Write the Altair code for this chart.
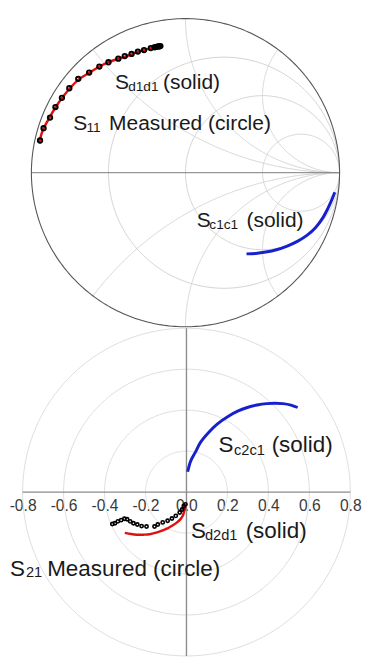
import altair as alt
import numpy as np
import pandas as pd

FONT = "Arial, Liberation Sans, sans-serif"

# ---------------- Top panel: Smith chart (reflection coefficient plane) ----------------
s11_meas_re = [-0.944, -0.921, -0.879, -0.844, -0.802, -0.754, -0.696, -0.625, -0.559, -0.500,
               -0.436, -0.394, -0.350, -0.309, -0.269, -0.225, -0.200, -0.188, -0.178, -0.169, -0.163]
s11_meas_im = [0.209, 0.289, 0.358, 0.426, 0.486, 0.548, 0.609, 0.650, 0.689, 0.717,
               0.740, 0.757, 0.771, 0.786, 0.796, 0.809, 0.814, 0.817, 0.819, 0.820, 0.822]

sd1d1_re = [-0.950, -0.925, -0.888, -0.844, -0.800, -0.750, -0.694, -0.625, -0.563, -0.500,
            -0.438, -0.375, -0.313, -0.250, -0.188, -0.169]
sd1d1_im = [0.192, 0.279, 0.348, 0.423, 0.486, 0.548, 0.604, 0.648, 0.686, 0.717,
            0.739, 0.759, 0.783, 0.801, 0.817, 0.820]

sc1c1_re = [0.396, 0.456, 0.521, 0.590, 0.660, 0.729, 0.790, 0.845, 0.890, 0.925, 0.950, 0.969]
sc1c1_im = [-0.527, -0.524, -0.515, -0.500, -0.476, -0.444, -0.405, -0.355, -0.295, -0.230, -0.175, -0.127]

smith_r_circles = [1 / 3, 1, 3]
smith_x_arcs = [0.5, 1, 2, -0.5, -1, -2]

top_big_text = ["S", "(solid)", "S", "Measured (circle)", "S", "(solid)"]
top_big_re = [-0.458, -0.146, -0.729, -0.496, 0.073, 0.396]
top_big_im = [0.546, 0.546, 0.279, 0.279, -0.350, -0.350]
top_sub_text = ["d1d1", "11", "c1c1"]
top_sub_re = [-0.372, -0.643, 0.155]
top_sub_im = [0.5325, 0.267, -0.3625]

# ---------------- Bottom panel: polar plot of transmission ----------------
s21_meas_re = [-0.362, -0.349, -0.335, -0.319, -0.303, -0.290, -0.275, -0.259, -0.240, -0.219, -0.195,
               -0.156, -0.140, -0.116, -0.092, -0.071, -0.052, -0.033, -0.021, -0.013, -0.005]
s21_meas_im = [-0.156, -0.152, -0.143, -0.137, -0.130, -0.133, -0.143, -0.152, -0.158, -0.166, -0.168,
               -0.168, -0.158, -0.148, -0.140, -0.129, -0.116, -0.100, -0.085, -0.068, -0.060]

sd2d1_re = [-0.301, -0.270, -0.243, -0.210, -0.180, -0.148, -0.116, -0.090, -0.068, -0.046,
            -0.029, -0.018, -0.013, -0.008, -0.005]
sd2d1_im = [-0.199, -0.205, -0.208, -0.208, -0.206, -0.198, -0.187, -0.176, -0.163, -0.148,
            -0.132, -0.116, -0.100, -0.084, -0.068]

sc2c1_re = [0.006, 0.020, 0.043, 0.070, 0.106, 0.150, 0.201, 0.250, 0.297, 0.345, 0.392, 0.430, 0.471, 0.510, 0.543]
sc2c1_im = [0.099, 0.150, 0.194, 0.245, 0.289, 0.332, 0.368, 0.395, 0.413, 0.425, 0.432, 0.434, 0.432, 0.425, 0.413]

polar_rings = [0.2, 0.4, 0.6, 0.8]
polar_ticks = [-0.8, -0.6, -0.4, -0.2, 0.0, 0.2, 0.4, 0.6, 0.8]

bot_big_text = ["S", "(solid)", "S", "(solid)", "S", "Measured (circle)"]
bot_big_re = [0.157, 0.416, 0.022, 0.289, -0.862, -0.680]
bot_big_im = [0.194, 0.194, -0.224, -0.224, -0.410, -0.410]
bot_sub_text = ["c2c1", "d2d1", "21"]
bot_sub_re = [0.232, 0.090, -0.784]
bot_sub_im = [0.181, -0.233, -0.417]

# ---------------- geometry helpers (grid lines) ----------------
theta = np.linspace(0, 2 * np.pi, 361)

rows = []
for k, r in enumerate(smith_r_circles):
    c, rad = r / (1 + r), 1 / (1 + r)
    for i, t in enumerate(theta):
        rows.append({"g": f"r{k}", "i": i, "re": c + rad * np.cos(t), "im": rad * np.sin(t)})
tt = np.linspace(0, np.pi / 2, 400, endpoint=False)
for k, xv in enumerate(smith_x_arcs):
    for i, t in enumerate(tt):
        z = complex(np.tan(t), xv)
        g = (z - 1) / (z + 1)
        rows.append({"g": f"x{k}", "i": i, "re": g.real, "im": g.imag})
    rows.append({"g": f"x{k}", "i": 400, "re": 1.0, "im": 0.0})
smith_grid = pd.DataFrame(rows)
smith_outer = pd.DataFrame({"g": "o", "i": range(len(theta)), "re": np.cos(theta), "im": np.sin(theta)})
smith_axis = pd.DataFrame({"re": [-1.0], "re2": [1.0], "im": [0.0]})

ring_rows = []
for k, rr in enumerate(polar_rings):
    for i, t in enumerate(theta):
        ring_rows.append({"g": f"p{k}", "i": i, "re": rr * np.cos(t), "im": rr * np.sin(t)})
polar_grid = pd.DataFrame(ring_rows)
polar_h = pd.DataFrame({"re": [-0.8], "re2": [0.8], "im": [0.0]})
polar_v = pd.DataFrame({"re": [0.0], "im": [-0.8], "im2": [0.8]})


def series(re, im):
    return pd.DataFrame({"re": re, "im": im, "i": range(len(re))})


# ---------------- Top chart ----------------
tx = alt.Scale(domain=[-182 / 158, 180 / 158], nice=False, zero=False)
ty = alt.Scale(domain=[-(318 - 158.5) / 158, 158.5 / 158], nice=False, zero=False)
TX = alt.X("re:Q", scale=tx, axis=None)
TY = alt.Y("im:Q", scale=ty, axis=None)

top_layers = [
    alt.Chart(smith_grid).mark_line(color="#d2d2d2", strokeWidth=1).encode(
        x=TX, y=TY, detail="g:N", order="i:Q"),
    alt.Chart(smith_axis).mark_rule(color="#7a7a7a", strokeWidth=1).encode(
        x=TX, x2="re2:Q", y=TY),
    alt.Chart(smith_outer).mark_line(color="#555555", strokeWidth=1.1).encode(
        x=TX, y=TY, order="i:Q"),
    alt.Chart(series(sd1d1_re, sd1d1_im)).mark_line(
        color="#e01010", strokeWidth=2.5, interpolate="catmull-rom").encode(x=TX, y=TY, order="i:Q"),
    alt.Chart(series(s11_meas_re, s11_meas_im)).mark_point(
        shape="circle", filled=False, color="black", size=20, strokeWidth=2, opacity=1).encode(x=TX, y=TY),
    alt.Chart(series(sc1c1_re, sc1c1_im)).mark_line(
        color="#1620cc", strokeWidth=3, interpolate="catmull-rom").encode(x=TX, y=TY, order="i:Q"),
    alt.Chart(pd.DataFrame({"re": top_big_re, "im": top_big_im, "t": top_big_text})).mark_text(
        align="left", baseline="alphabetic", fontSize=21.5, font=FONT, color="#1a1a1a").encode(
        x=TX, y=TY, text="t:N"),
    alt.Chart(pd.DataFrame({"re": top_sub_re, "im": top_sub_im, "t": top_sub_text})).mark_text(
        align="left", baseline="alphabetic", fontSize=14, font=FONT, color="#1a1a1a").encode(
        x=TX, y=TY, text="t:N"),
]
top = alt.layer(*top_layers).properties(width=362, height=318)

# ---------------- Bottom chart ----------------
bx = alt.Scale(domain=[-183 / 210, 179 / 210], nice=False, zero=False)
by = alt.Scale(domain=[-(340 - 168) / 210, 168 / 210], nice=False, zero=False)
BX = alt.X("re:Q", scale=bx, title=None, axis=alt.Axis(
    values=polar_ticks, orient="bottom", offset=-172, domain=False, ticks=False, tickSize=0,
    grid=False, labelFontSize=16, labelColor="#3a3a3a", labelFont=FONT, labelPadding=6,
    labelFlush=False, labelOverlap=False, title=None,
    labelExpr="(datum.value < -0.001 ? '-' : '') + format(abs(datum.value), '.1f')"))
BY = alt.Y("im:Q", scale=by, axis=None)

bot_layers = [
    alt.Chart(polar_grid).mark_line(color="#dcdcdc", strokeWidth=1).encode(
        x=BX, y=BY, detail="g:N", order="i:Q"),
    alt.Chart(polar_h).mark_rule(color="#8c8c8c", strokeWidth=1.4).encode(x=BX, x2="re2:Q", y=BY),
    alt.Chart(polar_v).mark_rule(color="#8c8c8c", strokeWidth=1.4).encode(x=BX, y=BY, y2="im2:Q"),
    alt.Chart(series(sd2d1_re, sd2d1_im)).mark_line(
        color="#e01010", strokeWidth=2.5, interpolate="catmull-rom").encode(x=BX, y=BY, order="i:Q"),
    alt.Chart(series(s21_meas_re, s21_meas_im)).mark_point(
        shape="circle", filled=False, color="black", size=11, strokeWidth=1.7, opacity=1).encode(x=BX, y=BY),
    alt.Chart(series(sc2c1_re, sc2c1_im)).mark_line(
        color="#1620cc", strokeWidth=3, interpolate="catmull-rom").encode(x=BX, y=BY, order="i:Q"),
    alt.Chart(pd.DataFrame({"re": bot_big_re, "im": bot_big_im, "t": bot_big_text})).mark_text(
        align="left", baseline="alphabetic", fontSize=23, font=FONT, color="#1a1a1a").encode(
        x=BX, y=BY, text="t:N"),
    alt.Chart(pd.DataFrame({"re": bot_sub_re, "im": bot_sub_im, "t": bot_sub_text})).mark_text(
        align="left", baseline="alphabetic", fontSize=15, font=FONT, color="#1a1a1a").encode(
        x=BX, y=BY, text="t:N"),
]
bottom = alt.layer(*bot_layers).properties(width=362, height=340)

chart = alt.vconcat(top, bottom, spacing=0, bounds="flush", padding=0,
                    background="white").configure_view(strokeWidth=0, strokeOpacity=0)

chart.save("out.html", embed_options={"renderer": "svg", "actions": False})
